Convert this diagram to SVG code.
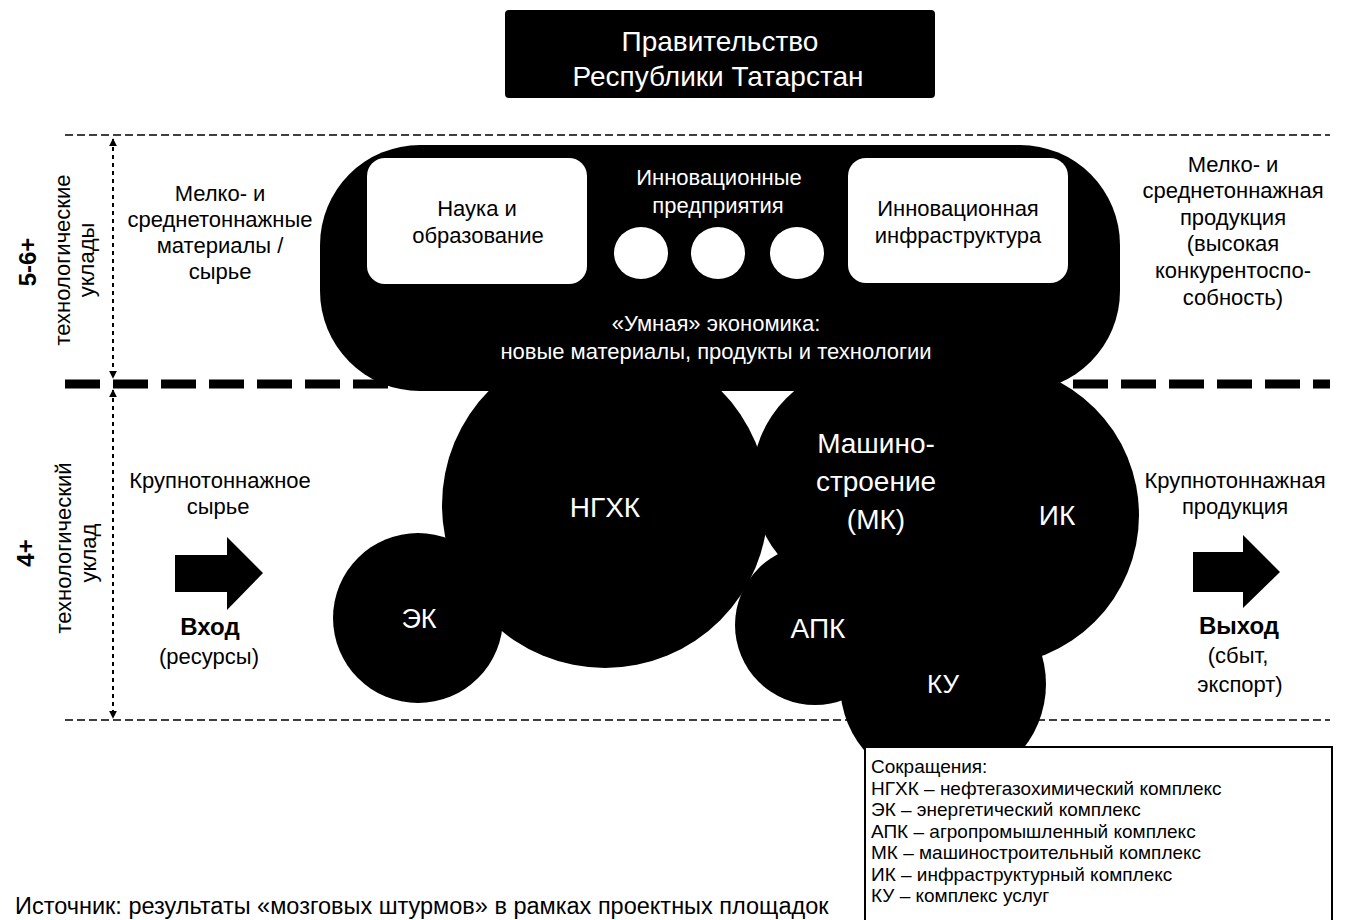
<svg xmlns="http://www.w3.org/2000/svg" width="1363" height="920" viewBox="0 0 1363 920">
<defs>
<style>
text{font-family:"Liberation Sans",Arial,sans-serif;fill:#000}
.w{fill:#fff}
.t22{font-size:22px}
.t28{font-size:28px}
.leg{font-size:19px}
.m{text-anchor:middle}
.b{font-weight:bold}
.blk{fill:#000}
.thin{stroke:#000;stroke-width:1.6;fill:none;stroke-dasharray:8 4}
.dot{stroke:#000;stroke-width:2;fill:none;stroke-dasharray:4 4}
</style>
<marker id="ah" viewBox="0 0 10 10" refX="9" refY="5" markerWidth="4" markerHeight="4" orient="auto-start-reverse">
<path d="M0,0 L10,5 L0,10 Z" fill="#000"/>
</marker>
</defs>
<rect width="1363" height="920" fill="#fff"/>

<g id="connectors">
<line x1="65" y1="135" x2="1330" y2="135" class="thin"/>
<line x1="65" y1="720" x2="1330" y2="720" class="thin" stroke-width="2" stroke-dasharray="7 3"/>
<line x1="65" y1="384" x2="1330" y2="384" stroke="#000" stroke-width="9" stroke-dasharray="35 13"/>
<line x1="113" y1="139" x2="113" y2="378" class="dot" marker-start="url(#ah)" marker-end="url(#ah)"/>
<line x1="113" y1="390" x2="113" y2="718" class="dot" marker-start="url(#ah)" marker-end="url(#ah)"/>
<path id="arrow-in" class="blk" d="M175,555 H227 V537 L263,573 L227,610 V592 H175 Z"/>
<path id="arrow-out" class="blk" d="M1193,552 H1243 V535 L1280,572 L1243,608 V592 H1193 Z"/>
</g>

<g id="government">
<rect x="505" y="10" width="430" height="88" rx="4" class="blk"/>
<text class="t28 w m" x="720" y="51">Правительство</text>
<text class="t28 w m" x="718" y="86">Республики Татарстан</text>
</g>

<g id="axis-labels">
<text class="m b" font-size="24" transform="translate(36,262) rotate(-90)">5-6+</text>
<text class="t22 m" transform="translate(70,260) rotate(-90)">технологические</text>
<text class="t22 m" transform="translate(94,260) rotate(-90)">уклады</text>
<text class="m b" font-size="24" transform="translate(34,553) rotate(-90)">4+</text>
<text class="t22 m" transform="translate(71,548) rotate(-90)">технологический</text>
<text class="t22 m" transform="translate(96,553) rotate(-90)">уклад</text>
</g>

<g id="input-top">
<text class="t22 m" x="220" y="201">Мелко- и</text>
<text class="t22 m" x="220" y="227">среднетоннажные</text>
<text class="t22 m" x="220" y="253">материалы /</text>
<text class="t22 m" x="220" y="279">сырье</text>
</g>

<g id="output-top">
<text class="t22 m" x="1233" y="172">Мелко- и</text>
<text class="t22 m" x="1233" y="198">среднетоннажная</text>
<text class="t22 m" x="1233" y="225">продукция</text>
<text class="t22 m" x="1233" y="251">(высокая</text>
<text class="t22 m" x="1233" y="278">конкурентоспо-</text>
<text class="t22 m" x="1233" y="305">собность)</text>
</g>

<g id="input-bottom">
<text class="t22 m" x="220" y="488">Крупнотоннажное</text>
<text class="t22 m" x="218" y="514">сырье</text>
<text class="m b" font-size="24" x="210" y="635">Вход</text>
<text class="t22 m" x="209" y="664">(ресурсы)</text>
</g>

<g id="output-bottom">
<text class="t22 m" x="1235" y="488">Крупнотоннажная</text>
<text class="t22 m" x="1235" y="514">продукция</text>
<text class="m b" font-size="24" x="1239" y="634">Выход</text>
<text class="t22 m" x="1238" y="663">(сбыт,</text>
<text class="t22 m" x="1240" y="692">экспорт)</text>
</g>

<g id="ngkh">
<circle cx="605" cy="505" r="163" class="blk"/>
<text class="t28 w m" x="605" y="517">НГХК</text>
</g>
<g id="ek">
<circle cx="418" cy="618" r="85" class="blk"/>
<text class="w m" font-size="27" x="419" y="628">ЭК</text>
</g>
<g id="mk">
<circle cx="869" cy="481" r="117" class="blk"/>
</g>
<g id="ik">
<circle cx="988" cy="515" r="151" class="blk"/>
</g>
<g id="apk">
<circle cx="815" cy="625" r="80" class="blk"/>
</g>
<g id="ku">
<circle cx="943" cy="684" r="103" class="blk"/>
</g>
<g id="node-labels">
<text class="t28 w m" x="876" y="453">Машино-</text>
<text class="t28 w m" x="876" y="491">строение</text>
<text class="t28 w m" x="876" y="529">(МК)</text>
<text class="t28 w m" x="1057" y="525">ИК</text>
<text class="t28 w m" x="818" y="638">АПК</text>
<text class="w m" font-size="26" x="943" y="693">КУ</text>
</g>

<g id="smart-economy">
<rect x="320" y="145" width="800" height="246" rx="100" ry="100" class="blk"/>
<text class="t22 w m" x="719" y="185">Инновационные</text>
<text class="t22 w m" x="718" y="213">предприятия</text>
<ellipse cx="641" cy="253" rx="27" ry="26" fill="#fff"/>
<ellipse cx="718" cy="253" rx="27" ry="26" fill="#fff"/>
<ellipse cx="797" cy="253" rx="27" ry="26" fill="#fff"/>
<text class="t22 w m" x="716" y="331">«Умная» экономика:</text>
<text class="t22 w m" x="716" y="359">новые материалы, продукты и технологии</text>
</g>

<g id="science">
<rect x="367" y="158" width="220" height="126" rx="18" fill="#fff"/>
<text class="t22 m" x="477" y="216">Наука и</text>
<text class="t22 m" x="478" y="243">образование</text>
</g>

<g id="infrastructure">
<rect x="848" y="158" width="220" height="125" rx="18" fill="#fff"/>
<text class="t22 m" x="958" y="216">Инновационная</text>
<text class="t22 m" x="958" y="243">инфраструктура</text>
</g>

<g id="legend">
<rect x="865" y="747" width="467" height="200" fill="#fff" stroke="#000" stroke-width="2"/>
<text class="leg" x="871" y="773">Сокращения:</text>
<text class="leg" x="871" y="795">НГХК – нефтегазохимический комплекс</text>
<text class="leg" x="871" y="816">ЭК – энергетический комплекс</text>
<text class="leg" x="871" y="838">АПК – агропромышленный комплекс</text>
<text class="leg" x="871" y="859">МК – машиностроительный комплекс</text>
<text class="leg" x="871" y="881">ИК – инфраструктурный комплекс</text>
<text class="leg" x="871" y="902">КУ – комплекс услуг</text>
</g>

<g id="source">
<text font-size="23.5" x="15" y="914">Источник: результаты «мозговых штурмов» в рамках проектных площадок</text>
</g>
</svg>
